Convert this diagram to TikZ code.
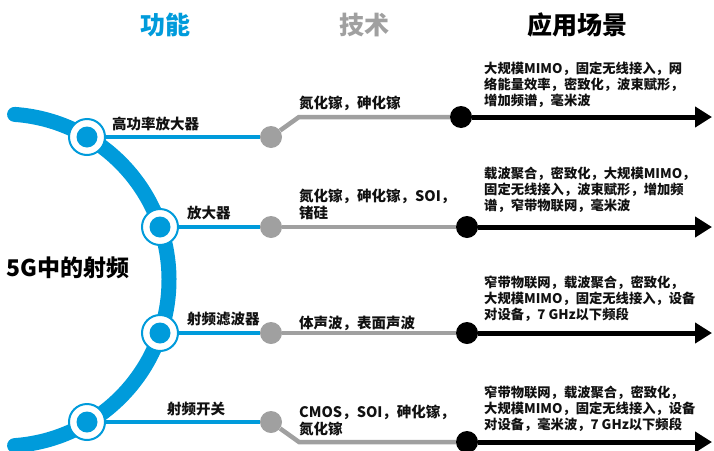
\documentclass[tikz,border=0pt]{standalone}
\usepackage{fontspec}
\setmainfont{Noto Sans CJK SC}
\usetikzlibrary{arrows.meta}
\definecolor{fblue}{HTML}{009BDB}
\definecolor{tgray}{HTML}{A0A0A0}
\definecolor{ink}{HTML}{111111}
\tikzset{
  fnode/.style={circle, draw=fblue, line width=2pt, fill=white, minimum size=36pt, inner sep=0pt,
    path picture={\fill[fblue] (path picture bounding box.center) circle (10.5pt);}},
  gdot/.style={circle, fill=tgray, minimum size=22pt, inner sep=0pt},
  bdot/.style={circle, fill=black, minimum size=22pt, inner sep=0pt},
  bline/.style={draw=fblue, line width=4.5pt},
  gline/.style={draw=tgray, line width=4.5pt},
  kline/.style={draw=black, line width=5pt, -{Triangle[length=17pt,width=20pt]}},
  title/.style={font=\fontsize{25}{30}\selectfont\bfseries, inner sep=0pt},
  lab/.style={font=\fontsize{14.5}{17}\selectfont\bfseries, text=ink, inner sep=0pt, anchor=north west, align=left},
  app/.style={font=\fontsize{13.3}{15.8}\selectfont\bfseries, text=ink, inner sep=0pt, anchor=north west, align=left},
}
\begin{document}
\begin{tikzpicture}[x=1pt,y=-1pt]
\useasboundingbox (0,0) rectangle (714,450);
% main arc
\draw[fblue, line width=15pt, line cap=round] (3,280) ++(-86:166) arc[start angle=-86, end angle=86, radius=166];
% titles
\node[title, text=fblue] (t1) at (165,25) {功能};
\node[title, text=tgray] (t2) at (364,25) {技术};
\node[title, text=black] (t3) at (577,25) {应用场景};
\node[font=\fontsize{23}{28}\selectfont\bfseries, text=black, inner sep=0pt, anchor=west] (main) at (6,268) {5G中的射频};
% function nodes
\node[fnode] (f1) at (87,137) {};
\node[fnode] (f2) at (160,227) {};
\node[fnode] (f3) at (160,333) {};
\node[fnode] (f4) at (87,422) {};
% technology dots
\node[gdot] (g1) at (271,137) {};
\node[gdot] (g2) at (271,227) {};
\node[gdot] (g3) at (271,333) {};
\node[gdot] (g4) at (271,422) {};
% application dots
\node[bdot] (b1) at (461,117) {};
\node[bdot] (b2) at (467,227) {};
\node[bdot] (b3) at (467,333) {};
\node[bdot] (b4) at (467,442) {};
\coordinate (c1) at (299,117);
\coordinate (c4) at (299,442);
\coordinate (e1) at (712,117);
\coordinate (e2) at (712,227);
\coordinate (e3) at (712,333);
\coordinate (e4) at (712,442);
% connectors
\path[bline] (f1) -- (g1);
\path[bline] (f2) -- (g2);
\path[bline] (f3) -- (g3);
\path[bline] (f4) -- (g4);
\path[gline] (g1) -- (c1) -- (b1);
\path[gline] (g2) -- (b2);
\path[gline] (g3) -- (b3);
\path[gline] (g4) -- (c4) -- (b4);
\path[kline] (b1) -- (e1);
\path[kline] (b2) -- (e2);
\path[kline] (b3) -- (e3);
\path[kline] (b4) -- (e4);
% labels
\node[lab] (l1) at (112,117) {高功率放大器};
\node[lab] (l2) at (187,206) {放大器};
\node[lab] (l3) at (187,312) {射频滤波器};
\node[lab] (l4) at (167,402) {射频开关};
% technology text
\node[lab] (k1) at (299,96) {氮化镓，砷化镓};
\node[lab] (k2) at (299,189) {氮化镓，砷化镓，SOI，\\锗硅};
\node[lab] (k3) at (299,316) {体声波，表面声波};
\node[lab] (k4) at (299,405) {CMOS，SOI，砷化镓，\\氮化镓};
% application text
\node[app] (a1) at (484,62) {大规模MIMO，固定无线接入，网\\络能量效率，密致化，波束赋形，\\增加频谱，毫米波};
\node[app] (a2) at (484,167) {载波聚合，密致化，大规模MIMO，\\固定无线接入，波束赋形，增加频\\谱，窄带物联网，毫米波};
\node[app] (a3) at (484,276) {窄带物联网，载波聚合，密致化，\\大规模MIMO，固定无线接入，设备\\对设备，7 GHz以下频段};
\node[app] (a4) at (484,386) {窄带物联网，载波聚合，密致化，\\大规模MIMO，固定无线接入，设备\\对设备，毫米波，7 GHz以下频段};
\end{tikzpicture}
\end{document}
